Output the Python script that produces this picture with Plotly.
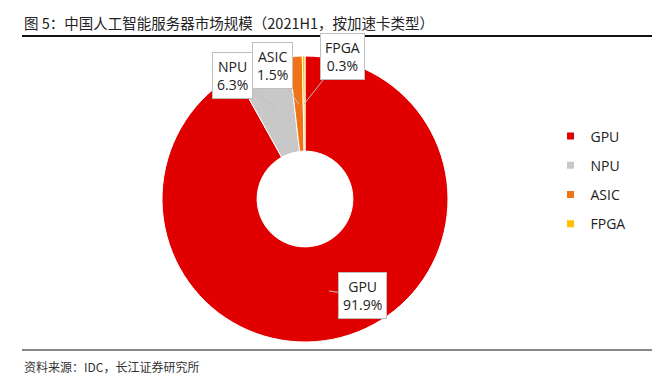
import math
import plotly.graph_objects as go

categories = ["GPU", "NPU", "ASIC", "FPGA"]
shares = [91.9, 6.3, 1.5, 0.3]
colors = ["#E00000", "#C8C8C8", "#F07417", "#FFC000"]
title_text = "图 5：中国人工智能服务器市场规模（2021H1，按加速卡类型）"
source_text = "资料来源：IDC，长江证券研究所"

W, H = 660, 376
cx, cy, R = 297, 191, 143

fig = go.Figure()
fig.add_trace(go.Pie(
    labels=categories, values=shares, sort=False, direction="clockwise", rotation=0,
    hole=0.335, marker=dict(colors=colors, line=dict(color="white", width=1)),
    textinfo="none", hoverinfo="label+percent", showlegend=False,
    domain=dict(x=[(cx - R) / W, (cx + R) / W], y=[1 - (cy + R) / H, 1 - (cy - R) / H]),
))

# legend via proxy traces
for c, col in zip(categories, colors):
    fig.add_trace(go.Scatter(x=[None], y=[None], mode="markers", name=c, legendgroup=c,
                             marker=dict(symbol="square", size=7, color=col)))

# callout offsets (pixels) from slice tip to box
offsets = {"GPU": (34, 5), "NPU": (-43, -33), "ASIC": (-26, -39), "FPGA": (38, -48)}
total = sum(shares)
cum = 0
annotations = []
for c, v in zip(categories, shares):
    mid = (cum + v / 2) / total * 2 * math.pi
    cum += v
    r = 95
    tx = cx + r * math.sin(mid)
    ty = cy - r * math.cos(mid)
    ax, ay = offsets[c]
    annotations.append(dict(
        x=tx / W, y=1 - ty / H, xref="paper", yref="paper",
        ax=ax, ay=ay, showarrow=True, arrowhead=0, arrowwidth=1, arrowcolor="#BFBFBF",
        text=f"{c}<br>{v:.1f}%", align="center",
        font=dict(family="Open Sans, Noto Sans", size=14, color="#222"),
        bgcolor="white", bordercolor="#BFBFBF", borderwidth=1, borderpad=4,
    ))

annotations.append(dict(x=14 / W, y=1 - 15 / H, xref="paper", yref="paper", xanchor="left",
                        yanchor="middle", showarrow=False, text=title_text,
                        font=dict(family="Noto Sans CJK SC", size=14.5, color="#222")))
annotations.append(dict(x=14 / W, y=1 - 358 / H, xref="paper", yref="paper", xanchor="left",
                        yanchor="middle", showarrow=False, text=source_text,
                        font=dict(family="Noto Sans CJK SC", size=12, color="#333")))

shapes = [
    dict(type="line", xref="paper", yref="paper", x0=14 / W, x1=648 / W,
         y0=1 - 28 / H, y1=1 - 28 / H, line=dict(color="#111", width=2)),
    dict(type="line", xref="paper", yref="paper", x0=14 / W, x1=648 / W,
         y0=1 - 342 / H, y1=1 - 342 / H, line=dict(color="#111", width=1)),
]

fig.update_layout(
    width=W, height=H, margin=dict(l=0, r=0, t=0, b=0),
    paper_bgcolor="white", plot_bgcolor="white",
    xaxis=dict(visible=False), yaxis=dict(visible=False),
    annotations=annotations, shapes=shapes,
    legend=dict(x=0.822, y=1 - 172 / H, yanchor="middle", xanchor="left",
                tracegroupgap=8, itemwidth=30,
                font=dict(family="Open Sans, Noto Sans", size=14, color="#222")),
)
fig.write_html("out.html")
